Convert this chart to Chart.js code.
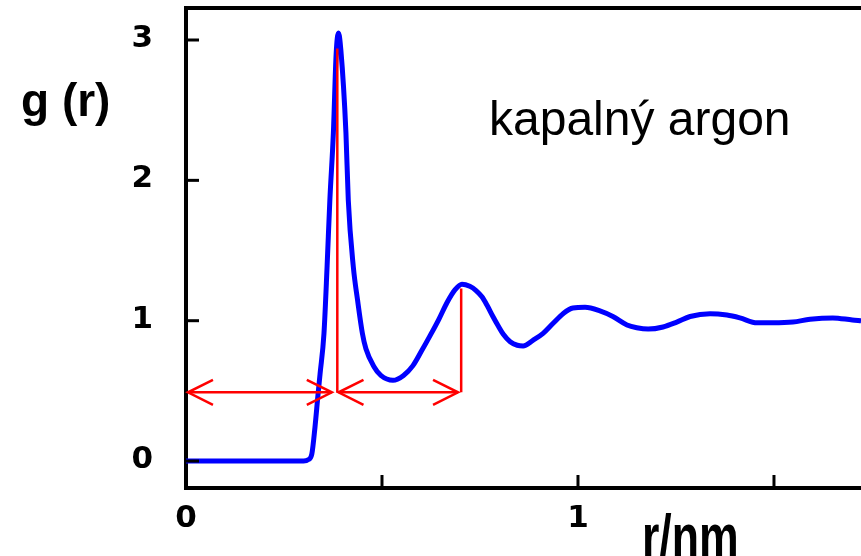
<!DOCTYPE html>
<html>
<head>
<meta charset="utf-8">
<script src="https://cdn.jsdelivr.net/npm/chart.js@4/dist/chart.umd.min.js"></script>
<style>
  html,body{margin:0;padding:0;background:#fff;}
  #wrap{width:861px;height:556px;}
</style>
</head>
<body>
<div id="wrap"><canvas id="chart" width="861" height="556"></canvas></div>
<script>
// radial distribution function of liquid argon
const rValues = [0, 0.300, 0.312, 0.321, 0.329, 0.337, 0.342, 0.352, 0.360, 0.367, 0.376, 0.383, 0.389,
  0.395, 0.408, 0.414, 0.427, 0.4375, 0.450, 0.459, 0.480, 0.497, 0.528, 0.555, 0.579, 0.600, 0.622, 0.645,
  0.666, 0.686, 0.704, 0.724, 0.740, 0.755, 0.768, 0.783, 0.797, 0.809, 0.827, 0.845, 0.860, 0.885, 0.911,
  0.936, 0.962, 0.987, 1.018, 1.056, 1.089, 1.125, 1.150, 1.179, 1.217, 1.252, 1.286, 1.337, 1.380, 1.413,
  1.457, 1.497, 1.548, 1.592, 1.650, 1.700, 1.722];
const gValues = [0, 0, 0.01, 0.05, 0.24, 0.48, 0.62, 0.91, 1.39, 1.86, 2.34, 2.90, 3.05,
  2.93, 2.34, 1.86, 1.38, 1.15, 0.91, 0.80, 0.67, 0.61, 0.575, 0.61, 0.68, 0.78, 0.89, 1.01,
  1.13, 1.22, 1.26, 1.245, 1.215, 1.17, 1.11, 1.03, 0.96, 0.905, 0.85, 0.825, 0.82, 0.86, 0.91,
  0.98, 1.05, 1.09, 1.095, 1.07, 1.03, 0.97, 0.95, 0.94, 0.955, 0.99, 1.03, 1.05, 1.04, 1.02,
  0.985, 0.985, 0.99, 1.01, 1.02, 1.005, 1.0];

// axes
const xTicks = [0, 0.5, 1, 1.5];
const xTickLabels = ["0", "", "1", ""];
const yTicks = [0, 1, 2, 3];
const yTickLabels = ["0", "1", "2", "3"];

// red markers: peak verticals and the two distance arrows
const peakR = [0.386, 0.702];
const peakG = [2.94, 1.23];
const arrowG = 0.49;
const arrowFrom = [0.005, 0.389];
const arrowTo = [0.372, 0.694];

const RED = "#ff0000", BLUE = "#0000ff";

const redSets = [];
peakR.forEach((r, i) => {
  redSets.push({data: [{x: r, y: peakG[i]}, {x: r, y: arrowG}], borderColor: RED, borderWidth: 2.5, pointRadius: 0});
});
arrowFrom.forEach((a, i) => {
  redSets.push({data: [{x: a, y: arrowG}, {x: arrowTo[i], y: arrowG}], borderColor: RED, borderWidth: 2.5, pointRadius: 0});
});

// inward tick marks, top frame, arrow heads and the free text
const extras = {
  id: "extras",
  afterDatasetsDraw(chart) {
    const {ctx, scales: {x, y}} = chart;
    ctx.save();
    ctx.strokeStyle = RED; ctx.lineWidth = 2.5;
    const py = y.getPixelForValue(arrowG);
    const head = (tx, dir) => {
      ctx.beginPath();
      ctx.moveTo(tx + dir * 25, py - 12.5);
      ctx.lineTo(tx, py);
      ctx.lineTo(tx + dir * 25, py + 12.5);
      ctx.stroke();
    };
    arrowFrom.forEach((a, i) => {
      head(x.getPixelForValue(a), 1);
      head(x.getPixelForValue(arrowTo[i]), -1);
    });
    ctx.restore();
  },
  afterDraw(chart) {
    const {ctx, chartArea: ca, scales: {x, y}} = chart;
    ctx.save();
    ctx.strokeStyle = "#000";
    ctx.lineWidth = 4;
    ctx.beginPath(); ctx.moveTo(ca.left - 2, ca.top); ctx.lineTo(ca.right, ca.top); ctx.stroke();
    ctx.lineWidth = 3;
    yTicks.forEach(v => {
      const p = y.getPixelForValue(v);
      ctx.beginPath(); ctx.moveTo(ca.left, p); ctx.lineTo(ca.left + 13, p); ctx.stroke();
    });
    xTicks.forEach(v => {
      const p = x.getPixelForValue(v);
      ctx.beginPath(); ctx.moveTo(p, ca.bottom); ctx.lineTo(p, ca.bottom - 13); ctx.stroke();
    });

    ctx.fillStyle = "#000";
    ctx.textBaseline = "alphabetic";
    ctx.textAlign = "left";
    ctx.font = 'bold 46px "Liberation Sans", Arial, sans-serif';
    ctx.fillText("g (r)", 21, 116);
    ctx.font = '48px "Liberation Sans", Arial, sans-serif';
    ctx.fillText("kapalný argon", 489, 135);
    ctx.save();
    ctx.translate(642, 557);
    ctx.scale(0.72, 1);
    ctx.font = 'bold 62px "Liberation Sans", Arial, sans-serif';
    ctx.fillText("r/nm", 0, 0);
    ctx.restore();
    ctx.restore();
  }
};

const tickFont = {family: '"DejaVu Sans", sans-serif', size: 31, weight: "bold"};

new Chart(document.getElementById("chart"), {
  type: "line",
  data: {
    datasets: [
      ...redSets,
      {
        data: rValues.map((r, i) => ({x: r, y: gValues[i]})),
        borderColor: BLUE,
        borderWidth: 5,
        pointRadius: 0,
        cubicInterpolationMode: "monotone"
      }
    ]
  },
  options: {
    responsive: false,
    animation: false,
    layout: {padding: {top: 8, right: 0, left: 0, bottom: 0}},
    plugins: {legend: {display: false}, tooltip: {enabled: false}},
    scales: {
      x: {
        type: "linear", min: 0, max: 1.722,
        afterBuildTicks: s => { s.ticks = xTicks.map(v => ({value: v})); },
        afterFit: s => { s.height = 68; s.paddingLeft = 0; s.paddingRight = 0; },
        grid: {display: false, drawTicks: false},
        border: {display: true, color: "#000", width: 4},
        ticks: {font: tickFont, color: "#000", padding: 12, maxRotation: 0, autoSkip: false,
          callback: (v, i) => xTickLabels[i]}
      },
      y: {
        type: "linear", min: -0.192, max: 3.228,
        afterBuildTicks: s => { s.ticks = yTicks.map(v => ({value: v})); },
        afterFit: s => { s.width = 186; s.paddingTop = 0; s.paddingBottom = 0; },
        grid: {display: false, drawTicks: false},
        border: {display: true, color: "#000", width: 4},
        ticks: {font: tickFont, color: "#000", padding: 33, labelOffset: -1, autoSkip: false,
          callback: (v, i) => yTickLabels[i]}
      }
    }
  },
  plugins: [extras]
});
</script>
</body>
</html>
